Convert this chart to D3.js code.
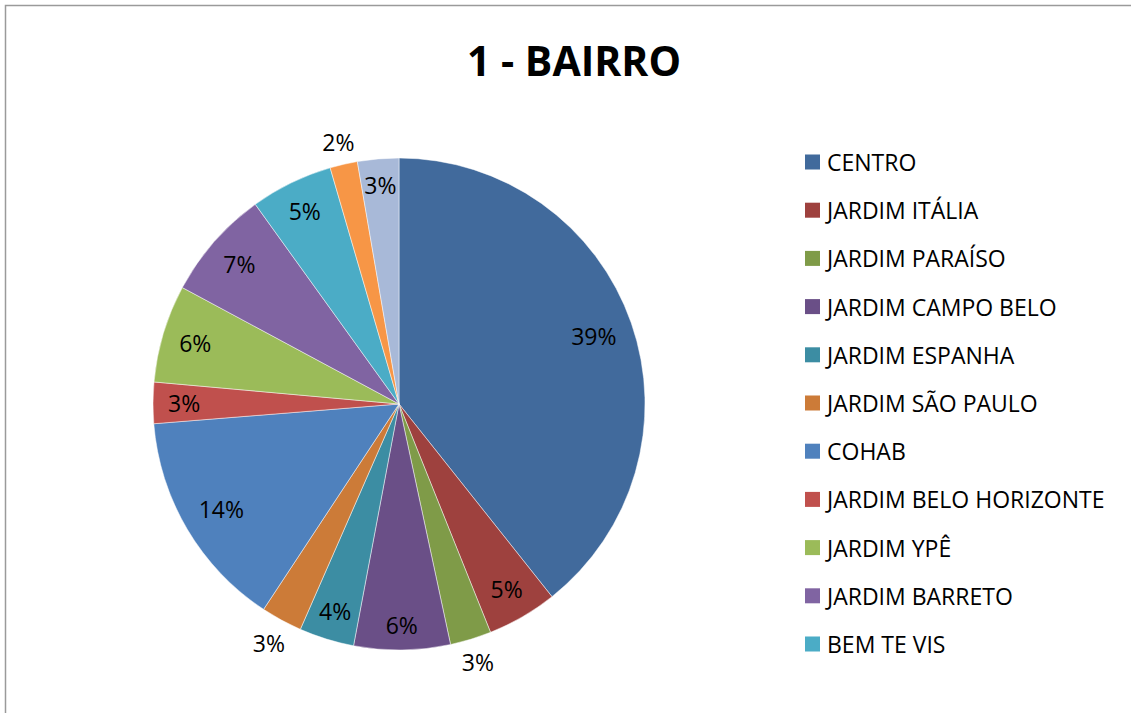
<!DOCTYPE html>
<html><head><meta charset="utf-8">
<script src="https://cdn.jsdelivr.net/npm/d3@7"></script>
<style>html,body{margin:0;padding:0;background:#fff;overflow:hidden}</style>
</head><body>
<svg id="chart" width="1131" height="713"></svg>
<script>
const title = "1 - BAIRRO";
const categories = ["CENTRO","JARDIM ITÁLIA","JARDIM PARAÍSO","JARDIM CAMPO BELO","JARDIM ESPANHA","JARDIM SÃO PAULO","COHAB","JARDIM BELO HORIZONTE","JARDIM YPÊ","JARDIM BARRETO","BEM TE VIS","OUTROS","NÃO INFORMADO"];
const values = [39.2, 4.6, 2.7, 6.3, 3.6, 2.7, 14.4, 2.7, 6.4, 7.2, 5.4, 1.8, 2.7];
const colors = ["#416A9C","#9E413E","#7F9B48","#6A4F87","#3C8DA3","#CC7B38","#4F81BD","#C0504D","#9BBB59","#8064A2","#4BACC6","#F79646","#A8B9D8"];
const legendShown = 11; // legend entries that fit in the chart area

const svg = d3.select("#chart");
const W = 1131, H = 713;
const font = "'Open Sans', sans-serif";

// frame
svg.append("rect").attr("x",5.5).attr("y",5.5).attr("width",W+20).attr("height",H+20)
  .attr("fill","#fff").attr("stroke","#9a9a9a").attr("stroke-width",1.5);

svg.append("text").attr("x",574).attr("y",76).attr("text-anchor","middle")
  .attr("font-family",font).attr("font-weight","bold").attr("font-size",41).attr("fill","#000").text(title);

const cx = 399, cy = 404, R = 246;
const g = svg.append("g").attr("transform",`translate(${cx},${cy})`);
const pie = d3.pie().sort(null).value(d=>d);
const arcs = pie(values);
const arc = d3.arc().innerRadius(0).outerRadius(R);
const total = d3.sum(values);
const color = d3.scaleOrdinal().domain(categories).range(colors);

g.selectAll("path.slice").data(arcs).join("path").attr("class","slice")
  .attr("d",arc).attr("fill",(d,i)=>color(categories[i]))
  .attr("stroke","#ffffff").attr("stroke-opacity",0.6).attr("stroke-width",0.8);

// labels
const lab = g.selectAll("text.lab").data(arcs).join("text").attr("class","lab")
  .attr("font-family",font).attr("font-size",23).attr("fill","#000")
  .attr("text-anchor","middle").attr("dominant-baseline","central")
  .text(d=>Math.round(d.value/total*100)+"%");

lab.each(function(d){
  const w = this.getComputedTextLength(), h = 20;
  const a = (d.startAngle+d.endAngle)/2;
  const ux = Math.sin(a), uy = -Math.cos(a);
  const half = Math.abs(ux)*w/2 + Math.abs(uy)*h/2;
  let r = R - 15 - half;
  let px = ux*r, py = uy*r;
  const corners = [[-w/2,-h/2],[w/2,-h/2],[-w/2,h/2],[w/2,h/2]];
  let fits = true;
  const pad = 0.004;
  corners.forEach(([ox,oy])=>{
    const x = px+ox, y = py+oy;
    let ang = Math.atan2(x,-y); if (ang<0) ang += 2*Math.PI;
    if (ang < d.startAngle+pad || ang > d.endAngle-pad) fits = false;
  });
  if (!fits) { r = R + 10 + half; px = ux*r; py = uy*r; }
  d3.select(this).attr("x",px).attr("y",py);
});

// legend
const leg = svg.append("g");
const items = categories.slice(0, legendShown);
const ly = d3.scalePoint().domain(items).range([162, 644]);
items.forEach(c=>{
  leg.append("rect").attr("x",805).attr("y",ly(c)-7.5).attr("width",15).attr("height",15).attr("fill",color(c));
  leg.append("text").attr("x",827).attr("y",ly(c)).attr("dominant-baseline","central")
    .attr("font-family",font).attr("font-size",23).attr("fill","#000").text(c);
});
</script>
</body></html>
